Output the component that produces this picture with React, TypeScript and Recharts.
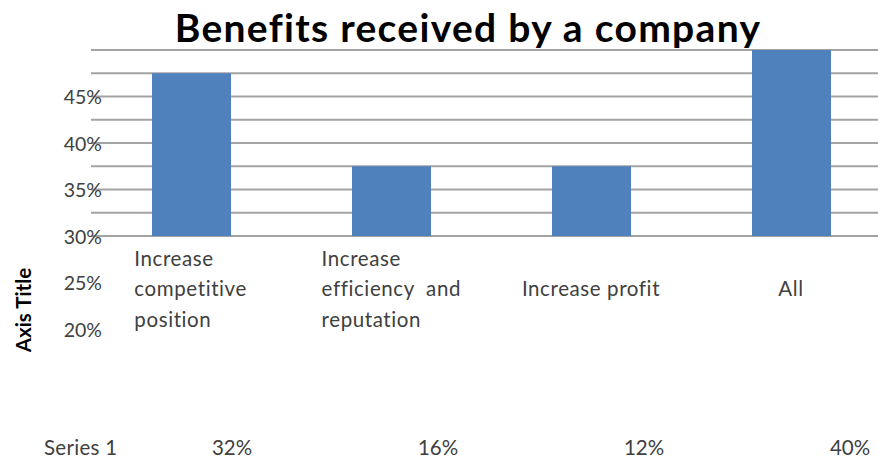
import React from 'react';
import { BarChart, Bar, XAxis, YAxis, CartesianGrid } from 'recharts';

const categories = [
  'Increase\ncompetitive\nposition',
  'Increase\nefficiency  and\nreputation',
  'Increase profit',
  'All',
];
const barValues = [47.5, 37.5, 37.5, 50];
const tableValues = ['32%', '16%', '12%', '40%'];
const seriesName = 'Series 1';
const yTicks = [20, 25, 30, 35, 40, 45];
const gridLines = [30, 32.5, 35, 37.5, 40, 42.5, 45, 47.5, 50];
const barBase = 30;

const chartData = categories.map((name, i) => ({
  name,
  value: barValues[i],
  table: tableValues[i],
}));

const FONT = 'Lato, "Open Sans", sans-serif';
const TEXT = '#404040';
const Y_AXIS_W = 91;

let ctx: CanvasRenderingContext2D | null = null;
const measure = (s: string, font: string, spacing: number) => {
  if (!ctx) ctx = document.createElement('canvas').getContext('2d');
  if (!ctx) return s.length * 10;
  ctx.font = font;
  return ctx.measureText(s).width + spacing * s.length;
};

const CategoryTick = (props: any) => {
  const { x, y, payload } = props;
  const lines: string[] = String(payload.value).split('\n');
  const lh = 30.5;
  const mid = y - 41;
  const fs = 20.5;
  const ls = 0.6;
  if (lines.length === 1) {
    return (
      <text x={x} y={mid} textAnchor="middle" dominantBaseline="central" fill={TEXT} fontSize={fs} fontFamily={FONT} letterSpacing={ls}>
        {lines[0]}
      </text>
    );
  }
  const w = Math.max(...lines.map((l) => measure(l, `${fs}px Lato`, ls)));
  return (
    <text fill={TEXT} fontSize={fs} fontFamily={FONT} letterSpacing={ls} style={{ whiteSpace: 'pre' }}>
      {lines.map((l, i) => (
        <tspan key={i} x={x - w / 2} y={mid + (i - (lines.length - 1) / 2) * lh} dominantBaseline="central">
          {l}
        </tspan>
      ))}
    </text>
  );
};

const ValueTick = (props: any) => {
  const { y, payload } = props;
  return (
    <text x={Y_AXIS_W + 11} y={y} textAnchor="end" dominantBaseline="central" fill={TEXT} fontSize={19.5} fontFamily={FONT}>
      {`${payload.value}%`}
    </text>
  );
};

const TableTick = (props: any) => {
  const { x, y, index } = props;
  return (
    <g>
      {index === 0 && (
        <text x={44} y={y + 88} dominantBaseline="central" fill={TEXT} fontSize={20.5} fontFamily={FONT} letterSpacing={0.3}>
          {seriesName}
        </text>
      )}
      <text x={x} y={y + 88} textAnchor="middle" dominantBaseline="central" fill={TEXT} fontSize={20.5} fontFamily={FONT}>
        {chartData[index]?.table}
      </text>
    </g>
  );
};

export default function App() {
  return (
    <div style={{ position: 'absolute', left: 0, top: 0, width: 878, height: 459, overflow: 'hidden', background: '#fff' }}>
      <BarChart
        width={953}
        height={459}
        data={chartData}
        margin={{ top: 50, right: 0, bottom: 0, left: 0 }}
        barCategoryGap={0}
      >
        <CartesianGrid
          xAxisId="main"
          yAxisId="main"
          vertical={false}
          horizontalValues={gridLines}
          stroke="#a3a3a3"
          strokeWidth={2}
        />
        <YAxis
          yAxisId="main"
          domain={[20, 50]}
          ticks={yTicks}
          width={Y_AXIS_W}
          axisLine={false}
          tickLine={false}
          tickSize={0}
          tickMargin={0}
          interval={0}
          tick={<ValueTick />}
        />
        <XAxis
          xAxisId="main"
          dataKey="name"
          height={30}
          padding={{ left: 0, right: 62 }}
          axisLine={false}
          tickLine={false}
          tickSize={0}
          tickMargin={0}
          interval={0}
          tick={<CategoryTick />}
        />
        <XAxis
          xAxisId="table"
          dataKey="name"
          height={100}
          padding={{ left: 38, right: 0 }}
          axisLine={false}
          tickLine={false}
          tickSize={0}
          tickMargin={0}
          interval={0}
          tick={<TableTick />}
        />
        <Bar
          xAxisId="main"
          yAxisId="main"
          dataKey={(d: any) => [barBase, d.value]}
          fill="#4f81bd"
          barSize={79}
          isAnimationActive={false}
        />
      </BarChart>
      <div
        style={{
          position: 'absolute',
          left: 0,
          width: 936,
          top: 8,
          textAlign: 'center',
          fontFamily: FONT,
          fontWeight: 700,
          fontSize: 39,
          letterSpacing: 1.3,
          lineHeight: '39px',
          color: '#000',
          whiteSpace: 'nowrap',
        }}
      >
        Benefits received by a company
      </div>
      <div
        style={{
          position: 'absolute',
          left: 23,
          top: 310,
          transform: 'translate(-50%, -50%) rotate(-90deg)',
          fontFamily: FONT,
          fontWeight: 700,
          fontSize: 20.5,
          color: '#000',
          whiteSpace: 'nowrap',
        }}
      >
        Axis Title
      </div>
    </div>
  );
}
